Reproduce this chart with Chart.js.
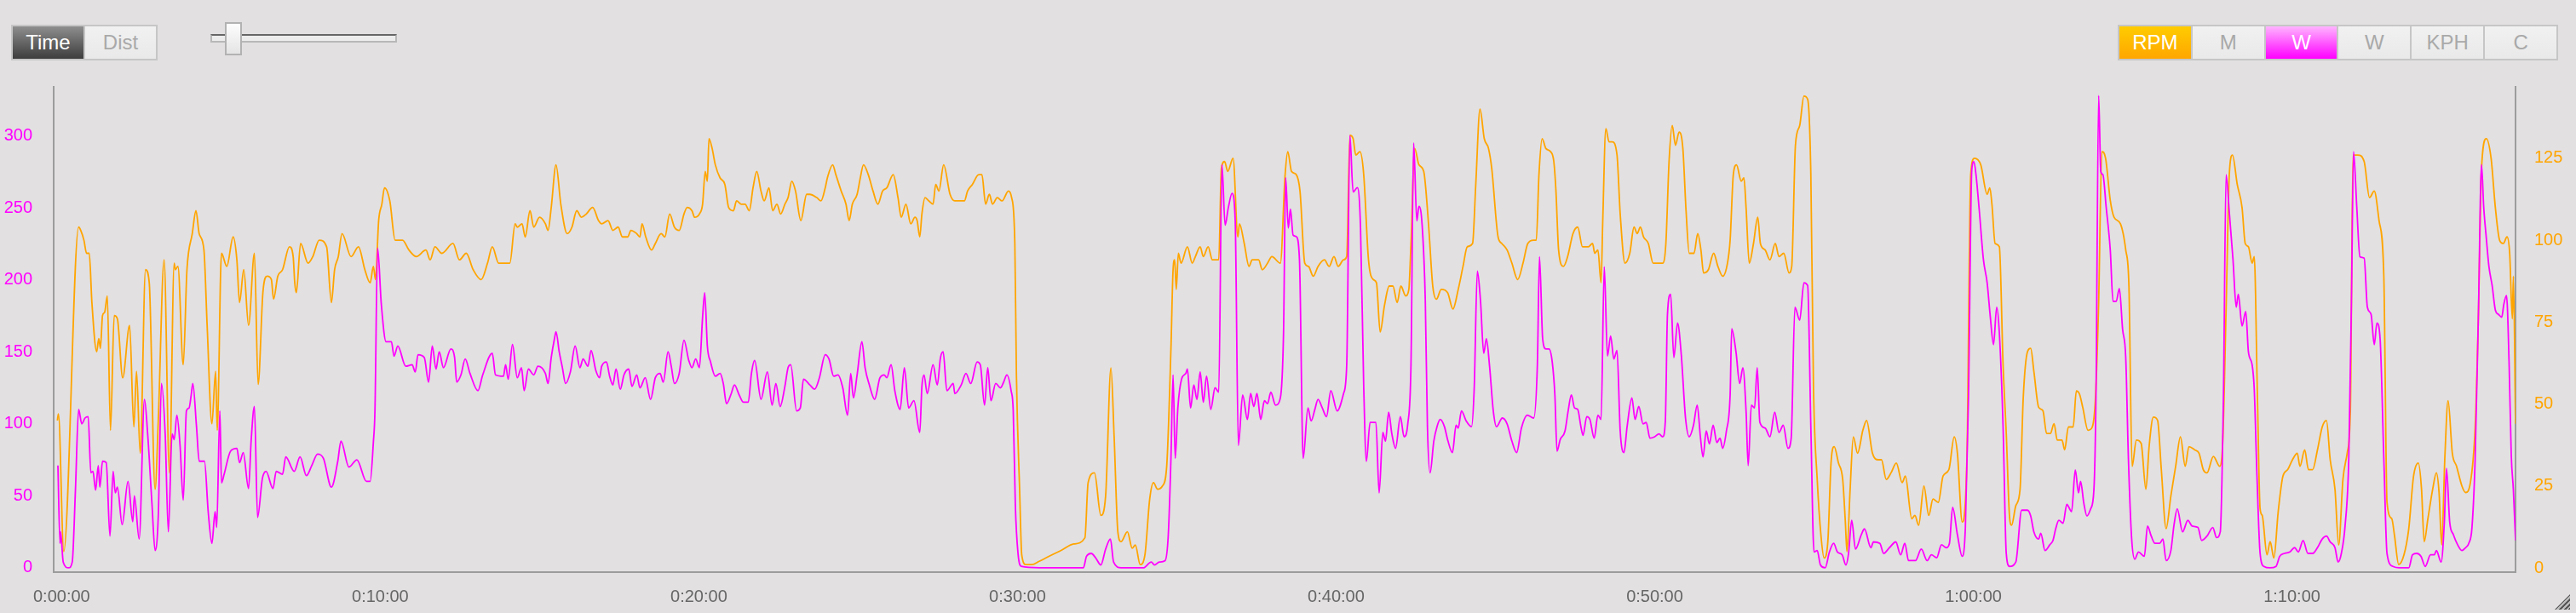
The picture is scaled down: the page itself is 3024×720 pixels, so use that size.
<!DOCTYPE html>
<html>
<head>
<meta charset="utf-8">
<script src="https://cdn.jsdelivr.net/npm/chart.js@4.4.0/dist/chart.umd.min.js"></script>
<style>
  html, body { margin: 0; padding: 0; background: #e2e0e1; overflow: hidden; }
  body { width: 3024px; height: 720px; position: relative; font-family: "Liberation Sans", Arial, sans-serif; }
  #chart { position: absolute; left: 0; top: 0; }
  .group { position: absolute; top: 29px; height: 42px; display: flex; border: 2px solid #c6c6c6; box-sizing: border-box; }
  .btn { flex: 1; line-height: 38px; text-align: center; font-size: 24px; color: #a9a9a9;
         background: linear-gradient(#f1f1f1, #e9e9e9); border-left: 2px solid #c6c6c6; }
  .btn:first-child { border-left: none; }
  .btn.dark { background: linear-gradient(#8e8e8e, #3d3d3d); color: #fff; }
  .btn.rpm { background: linear-gradient(#ffcc00, #ffa600); color: #fff; }
  .btn.watt { background: linear-gradient(#ffb4ff, #ff00ff); color: #fff; }
  #track { position: absolute; left: 247px; top: 40px; width: 219px; height: 10px; background: #ececec;
           border: 2px solid #b8b8b8; border-top-color: #666; box-sizing: border-box; }
  #thumb { position: absolute; left: 264px; top: 26px; width: 20px; height: 39px;
           background: linear-gradient(#fdfdfd, #e4e4e4); border: 2px solid #b2b2b2; box-sizing: border-box; }
  #grip { position: absolute; left: 2999px; top: 698px; width: 18px; height: 18px;
          clip-path: polygon(100% 0, 100% 100%, 0 100%);
          background: repeating-linear-gradient(135deg, #5a5a5a 0 2px, #bdbdbd 2px 4px); }
</style>
</head>
<body>
<canvas id="chart" width="3024" height="720"></canvas>

<div class="group" style="left:13px; width:172px;">
  <div class="btn dark">Time</div>
  <div class="btn">Dist</div>
</div>
<div id="track"></div>
<div id="thumb"></div>

<div class="group" style="left:2486px; width:517px;">
  <div class="btn rpm">RPM</div>
  <div class="btn">M</div>
  <div class="btn watt">W</div>
  <div class="btn">W</div>
  <div class="btn">KPH</div>
  <div class="btn">C</div>
</div>
<div id="grip"></div>

<script>
// elapsed time in seconds
const rpmTimes = [
  -8,-6,4,32,36,42,47,52,57,66,70,73,77,81,86,92,99,105,115,128,136,141,148,158,165,176,182,193,203,212,
  214,219,229,236,246,253,259,268,274,283,290,293,301,311,323,330,335,343,352,363,370,379,387,395,399,407,416,429,436,439,
  442,450,464,473,485,499,508,514,521,528,545,559,571,581,587,591,597,603,608,618,628,642,654,668,686,694,703,716,737,749,
  762,775,790,802,811,823,838,844,854,858,867,873,882,889,900,
  911,916,922,931,940,952,961,970,979,988,1000,1011,1017,1029,1038,1048,1056,1066,1072,1083,
  1089,1093,1100,1111,1118,1129,1136,1145,1154,1163,1172,1178,1187,1192,1201,1207,1212,1216,1219,1225,
  1231,1240,1249,1256,1265,1271,1280,1287,1295,1302,1309,1317,1323,1332,1339,1347,1354,1362,1368,1375,
  1382,1392,1403,1409,1422,1430,1438,1442,1452,1458,1468,1477,1483,1489,1498,1504,1510,1519,1528,1537,
  1546,1554,1566,1575,1581,1590,1599,1607,1611,1616,1620,1626,1633,1641,1646,1652,1661,1673,1682,1691,
  1700,1706,1715,1727,1733,1740,1747,1753,1762,1771,1783,1789,1795,1798,1804,1808,1816,1827,
  1841,1859,1883,1906,1927,1933,1945,1957,1966,1976,1982,1989,1995,2007,2016,2022,2031,2040,2049,2056,
  2064,2073,2081,2089,2093,2096,2099,2103,2108,2120,2129,2135,2144,2150,2159,2167,2179,2184,2190,2196,
  2206,2215,2218,2227,2236,2242,2254,2261,2271,2279,2295,2304,2309,2316,2325,2332,2341,2348,2357,2366,
  2378,2387,2396,2404,2414,2420,2426,2432,2437,2445,2452,2461,2470,2476,2483,2491,2500,2507,2515,2522,
  2531,2537,2541,2548,2556,2565,2574,2582,2589,2598,2610,2620,2630,2639,2647,2657,2663,2671,2679,2687,
  2693,2705,2712,2722,2731,2742,2752,2761,
  2772,2777,2782,2788,2795,2804,2810,2814,2819,2828,2836,2846,2855,2864,2875,2883,2887,2893,2899,2902,
  2908,2914,2920,2929,2935,2944,2953,2961,2967,2973,2979,2988,2997,3006,3015,3021,3027,3033,3039,3046,
  3053,3059,3065,3074,3081,3087,3092,3101,3111,3119,3128,3137,3142,3148,3154,3163,3168,3172,3178,3186,
  3194,3199,3208,3217,3227,3234,3243,3253,3258,3265,3273,3281,3288,3294,3299,3306,3313,3319,3326,3332,
  3338,3346,3354,3359,3362,3368,3374,3382,3392,3399,3410,3421,3427,3436,3445,3455,3466,3472,3484,3490,
  3497,3507,3516,3524,3534,3543,3554,3564,3570,3579,3588,3595,3602,3614,3626,3631,3635,3641,3649,3656,
  3662,3668,3672,3680,3688,3694,
  3702,3708,3714,3723,3731,3738,3745,3752,3758,3767,3772,3779,3788,3794,3800,3806,3816,3824,3830,3836,
  3842,3849,3858,3865,3877,3887,3893,3899,3907,3916,3925,3931,3939,3947,3954,3963,3972,3981,3990,3999,
  4006,4017,4025,4033,4040,4052,4064,4070,4076,4082,4088,4097,4106,4112,4118,4125,4129,4135,4140,4144,
  4153,4159,4166,4174,4183,4192,4201,4210,4215,4224,4231,4239,4248,4257,4265,4272,4281,4288,4296,4304,
  4310,4315,4324,4336,4346,4355,4364,4373,4379,4388,4393,4401,4411,4420,4429,4438,4444,4449,4456,4465,
  4472,4477,4482,4488,4494,4502,4510,4520,4527,4536,4545,4551,4557,4566,4575,4583,4591,4598,4605,4610,
  4615,4617,4621
];
const rpmValues = [
  45,47,5,104,103,100,96,96,81,66,70,67,77,78,83,42,77,76,58,74,43,60,35,91,87,24,45,94,29,93,
  91,92,62,91,102,109,102,97,74,44,60,42,96,92,101,94,81,91,74,96,56,84,89,88,82,89,91,98,95,87,
  84,99,93,95,100,98,81,91,95,102,95,98,91,87,92,88,106,111,116,112,100,100,97,95,97,94,98,96,99,94,
  96,91,88,93,98,93,93,93,105,104,105,101,109,104,107,
  105,103,110,123,111,102,104,109,107,108,110,106,105,106,103,104,101,101,103,102,
  101,105,101,97,99,102,101,108,104,103,108,110,109,107,108,111,121,118,131,128,
  123,119,117,110,109,112,111,111,109,116,121,115,112,116,109,111,108,111,113,118,
  115,106,114,114,113,112,116,119,123,120,115,111,106,111,114,119,123,120,115,111,
  115,116,120,113,107,111,105,107,106,101,108,113,112,111,117,115,123,114,112,112,
  112,115,117,120,120,111,114,111,113,112,115,113,99,59,24,4,1,1,
  2,3.5,5.4,7.3,9.2,26,29,16,22,61,40,11,8,11,6,7,1,4,21,26,
  24,25,31,67,91,94,85,96,93,98,93,95,98,95,98,94,94,122,124,121,
  125,101,105,99,92,94,94,91,93,95,93,120,127,121,120,115,93,92,89,92,
  94,92,95,92,94,95,132,131,126,127,120,94,88,87,72,80,86,86,81,86,
  83,85,99,128,123,121,105,86,82,85,84,79,85,92,98,99,117,140,131,128,
  122,101,99,97,93,88,93,99,
  100,100,120,131,128,127,124,115,97,92,95,102,104,98,98,99,96,97,87,105,
  134,130,130,126,108,93,96,104,102,104,101,99,93,93,93,99,124,135,129,133,
  128,109,96,96,102,97,90,91,96,92,89,93,100,120,123,118,119,110,93,99,
  107,99,97,94,99,95,96,90,92,129,135,144,143,120,55,27,10,3,8,32,
  37,32,27,14,5,24,40,35,42,45,35,33,33,27,29,32,26,28,15,16,
  13,25,16,21,20,28,30,40,35,14,34,120,125,123,114,116,111,99,98,62,
  41,16,13,19,24,52,
  66,67,60,49,48,41,41,44,39,39,36,43,43,54,53,49,42,43,52,81,
  127,125,112,107,105,97,86,31,39,38,24,37,46,45,30,12,22,31,40,31,
  37,36,35,30,29,34,31,40,79,120,126,117,110,99,98,93,95,52,18,16,
  4,8,3,17,28,30,33,35,31,36,30,30,36,43,45,33,24,7,27,35,
  48,126,126,124,113,115,106,89,20,15,10,1,4,12,28,32,24,8,15,24,
  29,23,7,34,51,35,31,25,23,26,43,76,122,131,125,110,100,99,101,96,
  76,89,44
];

const wattTimes = [
  -7,-3,-2,3,13,20,26,32,38,44,50,55,59,64,69,72,77,84,91,97,
  101,105,114,125,134,137,146,156,162,170,176,182,188,195,201,208,212,217,223,229,
  235,240,244,247,254,259,269,276,283,289,292,298,301,306,318,330,335,342,352,357,
  363,369,378,385,398,404,416,422,438,449,461,471,482,493,508,520,526,541,556,574,
  581,587,590,595,602,611,621,626,633,648,660,666,671,683,691,698,705,711,719,733,
  740,744,752,760,769,784,793,811,817,832,836,841,849,858,866,871,879,889,897,
  911,916,922,928,931,937,943,949,958,967,976,982,991,997,1006,1013,1017,1026,1032,1038,
  1044,1052,1059,1068,1074,1083,1089,1099,1109,1118,1127,1133,1142,1148,1154,1163,1172,1181,1187,1194,
  1201,1207,1211,1216,1222,1231,1240,1246,1252,1261,1267,1276,1284,1293,1299,1305,1317,1329,1338,1345,
  1353,1362,1368,1373,1384,1391,1397,1409,1418,1427,1438,1445,1454,1462,1471,1480,1486,1491,1498,1507,
  1513,1521,1531,1541,1549,1554,1562,1569,1579,1587,1595,1605,1616,1620,1624,1630,1641,1649,1655,1660,
  1667,1679,1682,1694,1703,1712,1724,1730,1738,1744,1750,1759,1768,1774,1780,1788,1792,1796,1801,1807,
  1841,
  1924,1930,1939,1947,1957,1966,1975,1981,1995,2007,2037,2052,2058,2067,2078,2084,2089,2093,2097,2102,
  2109,2117,2120,2126,2132,2138,2144,2150,2156,2164,2172,2179,2185,2191,2197,2204,2210,2216,2224,2233,
  2239,2245,2251,2258,2265,2271,2277,2286,2295,2301,2305,2310,2314,2319,2325,2331,2338,2347,2353,2360,
  2366,2374,2382,2390,2402,2414,2420,2426,2432,2440,2446,2452,2457,2464,2475,2481,2488,2493,2499,2505,
  2512,2521,2528,2535,2541,2546,2552,2556,2562,2568,2572,2577,2584,2590,2596,2604,2610,2619,2626,2630,
  2636,2645,2655,2660,2666,2672,2678,2683,2689,2696,2702,2713,2722,2731,2740,2749,2760,
  2772,2779,2783,2789,2795,2801,2807,2812,2816,2822,2831,2837,2843,2849,2855,2861,2865,2872,2878,2886,
  2893,2899,2905,2911,2917,2923,2929,2935,2942,2948,2957,2963,2970,2978,2984,2991,3000,3008,3015,3020,
  3024,3030,3036,3043,3050,3058,3065,3073,3080,3086,3091,3097,3103,3110,3117,3123,3128,3135,3142,3145,
  3153,3160,3166,3172,3176,3182,3188,3193,3198,3208,3217,3226,3234,3242,3251,3257,3264,3273,3281,3288,
  3294,3300,3306,3312,3321,3329,3337,3344,3353,3360,3365,3371,3378,3389,3395,3407,3412,3424,3431,3442,
  3454,3463,3471,3478,3491,3502,3513,3521,3531,3540,3549,3555,3561,3570,3579,3585,3591,3597,3601,3605,
  3611,3619,3626,3632,3638,3644,3649,3656,3662,3668,3680,3691,
  3702,3708,3714,3723,3727,3735,3744,3750,3755,3761,3769,3776,3785,3792,3798,3802,3808,3814,3821,3827,
  3831,3836,3840,3844,3850,3858,3863,3869,3875,3881,3887,3892,3898,3904,3911,3922,3928,3935,3942,3951,
  3957,3963,3972,3978,3984,3994,4004,4012,4023,4030,4040,4051,4058,4065,4071,4076,4082,4089,4095,4099,
  4106,4113,4118,4125,4129,4134,4140,4147,4159,4170,4177,4186,4196,4205,4212,4221,4230,4239,4248,4257,
  4265,4272,4281,4287,4293,4300,4307,4312,4316,4322,4328,4336,4342,4349,4355,4360,4366,4373,4379,4390,
  4402,4420,4427,4435,4443,4451,4461,4468,4472,4481,4487,4491,4497,4504,4512,4520,4527,4533,4539,4545,
  4551,4557,4561,4566,4571,4577,4583,4589,4595,4599,4604,4609,4613,4617,4621
];
const wattValues = [
  71,17,25,4,0,4,54,110,100,104,105,66,67,54,71,56,74,73,22,67,
  52,56,30,60,32,50,20,117,93,45,12,36,128,93,25,93,89,106,85,47,
  109,111,120,128,98,74,74,39,17,39,28,109,59,65,81,83,73,80,55,89,
  112,35,62,67,55,67,65,77,67,77,64,71,79,76,56,74,88,70,75,60,
  60,87,109,222,183,157,157,147,154,140,141,136,148,146,129,154,138,150,139,152,
  146,129,134,145,135,123,134,149,134,133,141,131,155,132,139,123,138,134,140,
  135,128,146,159,164,150,139,128,136,154,139,145,140,151,137,132,140,143,133,127,
  138,124,134,138,126,134,125,132,117,132,135,129,150,140,128,135,158,144,139,145,
  139,174,191,154,143,133,135,128,114,121,127,120,115,115,135,144,117,136,113,128,
  112,126,139,141,109,111,131,127,124,132,148,145,133,134,125,106,135,118,134,157,
  139,127,117,132,134,132,141,123,110,139,111,116,94,126,134,121,141,127,146,150,
  123,128,121,127,135,128,143,141,113,139,116,128,125,129,134,123,109,43,10,1,
  0,
  0,8,10,7,2,13,20,4,0,0,0,4,2,4,5,23,76,134,76,111,
  131,135,138,111,127,117,136,115,133,110,125,122,280,238,250,260,241,85,120,103,
  121,112,121,103,116,114,122,113,118,163,271,236,249,231,230,214,76,111,102,110,
  117,111,105,123,109,121,141,300,261,264,236,126,74,101,101,52,94,88,108,93,
  83,105,91,100,141,295,241,251,238,185,98,66,88,98,103,98,89,80,99,97,
  109,102,98,124,206,185,149,159,140,109,98,104,100,88,80,97,106,
  104,141,216,159,152,152,143,120,81,89,95,109,120,111,110,98,92,105,103,90,
  106,103,209,147,161,145,151,95,80,98,118,103,112,100,101,90,91,93,91,102,
  176,190,146,170,148,104,91,99,113,91,77,95,86,99,87,90,83,95,120,166,
  150,128,139,109,71,113,111,139,101,97,91,108,94,99,83,90,181,172,198,196,
  98,11,12,2,0,11,17,11,9,2,10,33,13,23,27,14,18,17,10,14,
  18,9,17,5,5,13,5,9,7,16,14,17,42,23,8,28,120,276,282,273,
  249,214,198,174,155,181,163,98,10,1,4,40,
  40,36,25,20,24,12,16,19,27,33,31,44,39,68,52,60,45,36,41,54,
  120,328,275,273,251,220,185,185,194,166,146,76,21,6,11,8,29,22,17,17,
  20,5,12,30,41,25,33,29,28,19,22,28,21,25,120,273,247,214,181,190,
  168,178,150,141,124,65,10,1,0,1,8,10,11,14,11,19,10,10,14,20,
  22,18,14,4,10,29,76,185,289,251,216,215,181,176,155,170,159,76,10,1,
  0,0,9,10,8,1,9,9,12,4,32,69,32,23,16,12,14,17,28,76,
  174,280,251,229,209,196,179,176,174,183,189,141,78,54,19
];

const timeTicks = [0, 600, 1200, 1800, 2400, 3000, 3600, 4200];
const wattTicks = [0, 50, 100, 150, 200, 250, 300];
const rpmTicks = [0, 25, 50, 75, 100, 125];

function hms(sec) {
  const h = Math.floor(sec / 3600);
  const m = Math.floor((sec % 3600) / 60);
  const s = sec % 60;
  return h + ':' + String(m).padStart(2, '0') + ':' + String(s).padStart(2, '0');
}

Chart.defaults.font.family = '"Liberation Sans", Arial, sans-serif';
Chart.defaults.font.size = 20;

const wattPoints = wattTimes.map((t, i) => ({ x: t, y: wattValues[i] }));
const rpmPoints = rpmTimes.map((t, i) => ({ x: t, y: rpmValues[i] }));

const axisBorder = { display: true, color: '#9c9c9c', width: 2 };

const chart = new Chart(document.getElementById('chart'), {
    type: 'line',
    data: {
        datasets: [
            {
                label: 'W',
                data: wattPoints,
                yAxisID: 'yW',
                borderColor: '#ff00ff',
                borderWidth: 1.8,
                pointRadius: 0,
                cubicInterpolationMode: 'monotone',
                fill: false
            },
            {
                label: 'RPM',
                data: rpmPoints,
                yAxisID: 'yR',
                borderColor: '#ffa500',
                borderWidth: 1.8,
                pointRadius: 0,
                cubicInterpolationMode: 'monotone',
                fill: false
            }
        ]
    },
    options: {
        responsive: false,
        animation: false,
        devicePixelRatio: 1,
        layout: { padding: { top: 102 } },
        plugins: {
            legend: { display: false },
            tooltip: { enabled: false }
        },
        scales: {
            x: {
                type: 'linear',
                min: -15,
                max: 4621,
                grid: { display: false },
                border: axisBorder,
                afterBuildTicks: s => { s.ticks = timeTicks.map(v => ({ value: v })); },
                afterFit: s => { s.height = 48; },
                ticks: { color: '#666', padding: 9, maxRotation: 0, autoSkip: false, callback: v => hms(v) }
            },
            yW: {
                position: 'left',
                min: -3,
                max: 334,
                grid: { display: false },
                border: axisBorder,
                afterBuildTicks: s => { s.ticks = wattTicks.map(v => ({ value: v })); },
                afterFit: s => { s.width = 63; },
                ticks: { color: '#ff00ff', padding: 17 }
            },
            yR: {
                position: 'right',
                min: -1.3,
                max: 146.8,
                grid: { display: false },
                border: axisBorder,
                afterBuildTicks: s => { s.ticks = rpmTicks.map(v => ({ value: v })); },
                afterFit: s => { s.width = 71; },
                ticks: { color: '#ffa500', padding: 14 }
            }
        }
    }
});
</script>
</body>
</html>
